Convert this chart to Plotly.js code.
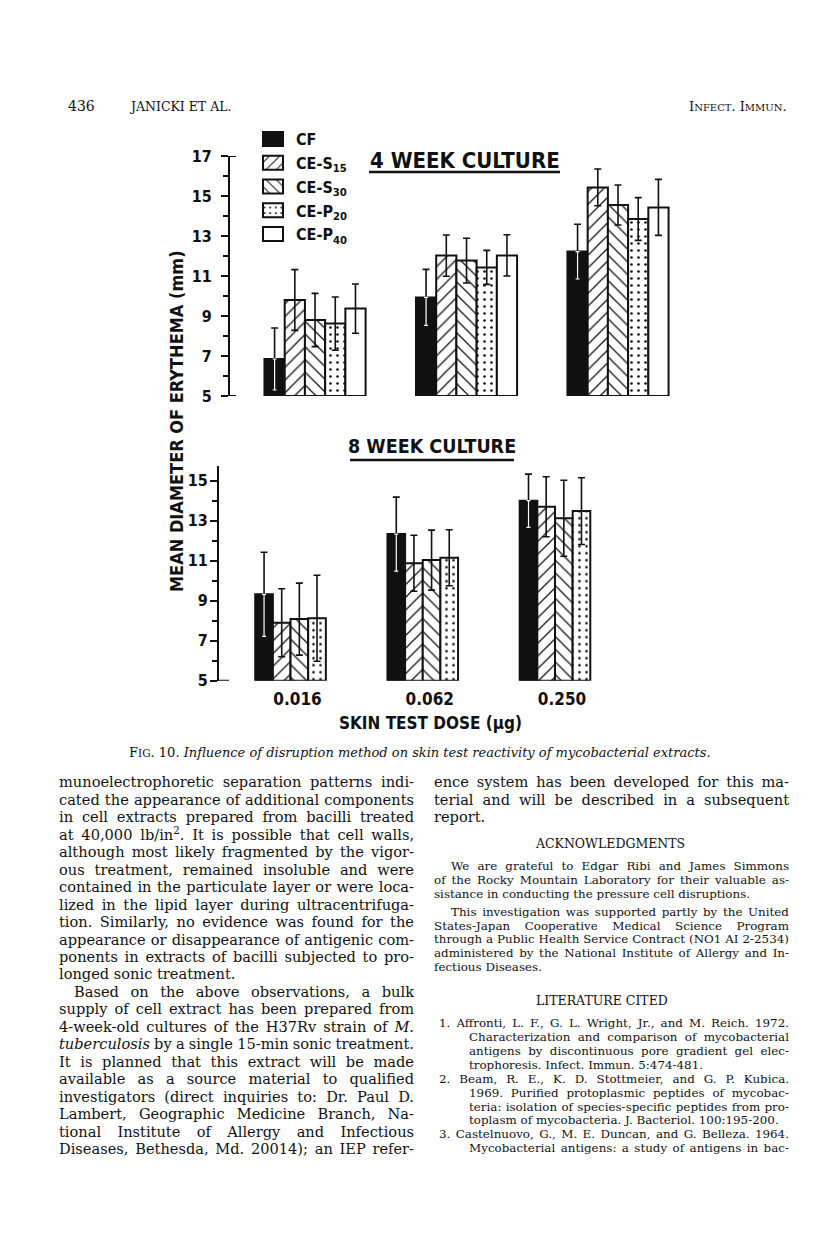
<!DOCTYPE html>
<html><head><meta charset="utf-8">
<script src="https://cdn.plot.ly/plotly-3.0.1.min.js"></script>
<style>html,body{margin:0;padding:0;background:#fff}</style>
</head><body><div id="chart" style="width:816px;height:1252px"></div>
<script>
// ---------------- data ----------------
const doses = ['0.016', '0.062', '0.250'];
const seriesNames = ['CF', 'CE-S15', 'CE-S30', 'CE-P20', 'CE-P40'];
const seriesLabels = ['CF', 'CE-S<sub>15</sub>', 'CE-S<sub>30</sub>', 'CE-P<sub>20</sub>', 'CE-P<sub>40</sub>'];
const yTicks4 = [5, 7, 9, 11, 13, 15, 17];
const yTicks8 = [5, 7, 9, 11, 13, 15];

// 4 week culture: mean diameter of erythema (mm) and error (mm)
const w4CF = [6.85, 9.93, 12.22];   const w4CFErr = [1.55, 1.40, 1.37];
const w4S15 = [9.80, 12.02, 15.43]; const w4S15Err = [1.52, 1.03, 0.92];
const w4S30 = [8.80, 11.77, 14.55]; const w4S30Err = [1.33, 1.12, 1.00];
const w4P20 = [8.62, 11.43, 13.85]; const w4P20Err = [1.33, 0.85, 1.07];
const w4P40 = [9.37, 12.03, 14.43]; const w4P40Err = [1.23, 1.03, 1.40];

// 8 week culture
const w8CF = [9.32, 12.33, 14.00];  const w8CFErr = [2.10, 1.85, 1.33];
const w8S15 = [7.90, 10.87, 13.70]; const w8S15Err = [1.70, 1.40, 1.50];
const w8S30 = [8.08, 11.03, 13.12]; const w8S30Err = [1.80, 1.50, 1.90];
const w8P20 = [8.12, 11.15, 13.48]; const w8P20Err = [2.15, 1.40, 1.67];

const AXIS_FLOOR = 5;

// page text
const headerLeftNum = '436';
const headerLeft = 'JANICKI ET AL.';
const headerRight = 'I<span style="font-size:10px">NFECT</span>. I<span style="font-size:10px">MMUN</span>.';
const captionText = 'F<span style="font-size:10.5px">IG</span>. 10. <i>Influence of disruption method on skin test reactivity of mycobacterial extracts.</i>';
const leftColumn = [
 ['munoelectrophoretic separation patterns indi-', 0, 1],
 ['cated the appearance of additional components', 0, 1],
 ['in cell extracts prepared from bacilli treated', 0, 1],
 ['at 40,000 lb/in<sup>2</sup>. It is possible that cell walls,', 0, 1],
 ['although most likely fragmented by the vigor-', 0, 1],
 ['ous treatment, remained insoluble and were', 0, 1],
 ['contained in the particulate layer or were loca-', 0, 1],
 ['lized in the lipid layer during ultracentrifuga-', 0, 1],
 ['tion. Similarly, no evidence was found for the', 0, 1],
 ['appearance or disappearance of antigenic com-', 0, 1],
 ['ponents in extracts of bacilli subjected to pro-', 0, 1],
 ['longed sonic treatment.', 0, 0],
 ['Based on the above observations, a bulk', 15, 1],
 ['supply of cell extract has been prepared from', 0, 1],
 ['4-week-old cultures of the H37Rv strain of <i>M.</i>', 0, 1],
 ['<i>tuberculosis</i> by a single 15-min sonic treatment.', 0, 1],
 ['It is planned that this extract will be made', 0, 1],
 ['available as a source material to qualified', 0, 1],
 ['investigators (direct inquiries to: Dr. Paul D.', 0, 1],
 ['Lambert, Geographic Medicine Branch, Na-', 0, 1],
 ['tional Institute of Allergy and Infectious', 0, 1],
 ['Diseases, Bethesda, Md. 20014); an IEP refer-', 0, 1]
];
const rightColumn = [
 ['ence system has been developed for this ma-', 0, 1],
 ['terial and will be described in a subsequent', 0, 1],
 ['report.', 0, 0]
];
const ackHeading = 'ACKNOWLEDGMENTS';
const ackLines = [
 ['We are grateful to Edgar Ribi and James Simmons', 17, 1, 866],
 ['of the Rocky Mountain Laboratory for their valuable as-', 0, 1, 880],
 ['sistance in conducting the pressure cell disruptions.', 0, 0, 894],
 ['This investigation was supported partly by the United', 17, 1, 912],
 ['States-Japan Cooperative Medical Science Program', 0, 1, 926],
 ['through a Public Health Service Contract (NO1 AI 2-2534)', 0, 1, 939],
 ['administered by the National Institute of Allergy and In-', 0, 1, 953],
 ['fectious Diseases.', 0, 0, 967]
];
const litHeading = 'LITERATURE CITED';
const litLines = [
 ['1. Affronti, L. F., G. L. Wright, Jr., and M. Reich. 1972.', 5, 1, 1023],
 ['Characterization and comparison of mycobacterial', 35, 1, 1037],
 ['antigens by discontinuous pore gradient gel elec-', 35, 1, 1051],
 ['trophoresis. Infect. Immun. 5:474-481.', 35, 0, 1065],
 ['2. Beam, R. E., K. D. Stottmeier, and G. P. Kubica.', 5, 1, 1079],
 ['1969. Purified protoplasmic peptides of mycobac-', 35, 1, 1093],
 ['teria: isolation of species-specific peptides from pro-', 35, 1, 1107],
 ['toplasm of mycobacteria. J. Bacteriol. 100:195-200.', 35, 0, 1120],
 ['3. Castelnuovo, G., M. E. Duncan, and G. Belleza. 1964.', 5, 1, 1134],
 ['Mycobacterial antigens: a study of antigens in bac-', 35, 1, 1148]
];

// ---------------- layout helpers ----------------
const W = 816, H = 1252;
const px = v => v / W;
const py = v => 1 - v / H;
const SANS = '"Liberation Sans Narrow", "DejaVu Sans Condensed", "Liberation Sans", Arial, sans-serif';
const SERIF = '"DejaVu Serif", "Liberation Serif", serif';
const INK = '#111';
const BODY = 14.6;
const SMALL = 11.9;

const patterns = ['', '/', '\\', '.', ''];
const fills = [INK, 'white', 'white', 'white', 'white'];
const BW = 0.1335; // bar width in category units

function barTrace(vals, errs, idx, nSeries, xa, ya, showLegend) {
  const m = {color: fills[idx], line: {color: INK, width: 2}};
  if (patterns[idx]) {
    m.pattern = {shape: patterns[idx], fgcolor: INK, bgcolor: 'white',
      size: patterns[idx] === '.' ? 7 : 9, solidity: patterns[idx] === '.' ? 0.11 : 0.14, fillmode: 'replace'};
  }
  return {
    type: 'bar', x: doses, y: vals.map(v => v - AXIS_FLOOR), base: AXIS_FLOOR,
    width: BW, offset: (idx - nSeries / 2) * BW,
    xaxis: xa, yaxis: ya, name: seriesLabels[idx], legendgroup: seriesNames[idx],
    showlegend: showLegend, marker: m,
    error_y: {type: 'data', array: errs, visible: true, color: INK, thickness: 1.6, width: 3.5},
    hoverinfo: 'skip'
  };
}
function innerErr(vals, errs, nSeries, xa, ya) {
  return {
    type: 'bar', x: doses, y: vals.map(v => v - AXIS_FLOOR), base: AXIS_FLOOR,
    width: BW, offset: (0 - nSeries / 2) * BW, xaxis: xa, yaxis: ya,
    showlegend: false, marker: {color: 'rgba(0,0,0,0)', line: {width: 0}},
    error_y: {type: 'data', symmetric: false, array: errs.map(() => 0), arrayminus: errs,
      visible: true, color: 'white', thickness: 1.2, width: 2},
    hoverinfo: 'skip'
  };
}

const w4 = [[w4CF, w4CFErr], [w4S15, w4S15Err], [w4S30, w4S30Err], [w4P20, w4P20Err], [w4P40, w4P40Err]];
const w8 = [[w8CF, w8CFErr], [w8S15, w8S15Err], [w8S30, w8S30Err], [w8P20, w8P20Err]];

const traces = [];
w4.forEach((s, i) => traces.push(barTrace(s[0], s[1], i, 5, 'x', 'y', true)));
traces.push(innerErr(w4CF, w4CFErr, 5, 'x', 'y'));
w8.forEach((s, i) => traces.push(barTrace(s[0], s[1], i, 4, 'x2', 'y2', false)));
traces.push(innerErr(w8CF, w8CFErr, 4, 'x2', 'y2'));

const tickFont = {family: SANS, size: 16, color: INK, weight: 'bold'};
const yCommon = {
  showgrid: false, zeroline: false, showline: true, linecolor: INK, linewidth: 2,
  ticks: 'outside', ticklen: 7, tickwidth: 2, tickcolor: INK, tickfont: tickFont,
  tickmode: 'array', minor: {tickmode: 'linear', tick0: 5, dtick: 1, ticks: 'outside', ticklen: 5, tickwidth: 2, tickcolor: INK}
};

const annotations = [];
const justify = [];
function addText(text, x, y, opts) {
  const o = Object.assign({}, opts || {});
  const jw = o._jw || 0; delete o._jw;
  annotations.push(Object.assign({text: text, xref: 'paper', yref: 'paper', x: px(x), y: py(y),
    showarrow: false, xanchor: 'left', yanchor: 'middle', align: 'left', borderpad: 0,
    font: {family: SERIF, size: BODY, color: INK}}, o));
  justify.push(jw);
}

// chart texts
addText('<b>4 WEEK CULTURE</b>', 464.5, 161, {xanchor: 'center', font: {family: SANS, size: 22, color: INK}});
addText('<b>8 WEEK CULTURE</b>', 432, 446, {xanchor: 'center', font: {family: SANS, size: 19.5, color: INK}});
addText('<b>MEAN DIAMETER OF ERYTHEMA (mm)</b>', 176, 421, {xanchor: 'center', textangle: -90, font: {family: SANS, size: 18, color: INK}});
addText('<b>SKIN TEST DOSE (µg)</b>', 430, 723, {xanchor: 'center', font: {family: SANS, size: 17, color: INK}});
// page texts
addText(headerLeftNum, 67, 106, {font: {family: SERIF, size: 14, color: INK}});
addText(headerLeft, 128, 106, {font: {family: SERIF, size: 12.5, color: INK}});
addText(headerRight, 788, 106, {xanchor: 'right', font: {family: SERIF, size: 13, color: INK}});
addText(captionText, 420, 752, {xanchor: 'center', font: {family: SERIF, size: 13, color: INK}});

const LC0 = 58, LC1 = 413, RC0 = 433, RC1 = 788, L0 = 782, LS = 17.45;
leftColumn.forEach((l, i) => addText(l[0], LC0 + l[1], L0 + LS * i, l[2] ? {_jw: LC1 - LC0 - l[1]} : {}));
rightColumn.forEach((l, i) => addText(l[0], RC0 + l[1], L0 + LS * i, l[2] ? {_jw: RC1 - RC0 - l[1]} : {}));
addText(ackHeading, 610, 843, {xanchor: 'center', font: {family: SERIF, size: 12.5, color: INK}});
ackLines.forEach(l => addText(l[0], RC0 + l[1], l[3], Object.assign({font: {family: SERIF, size: SMALL, color: INK}}, l[2] ? {_jw: RC1 - RC0 - l[1]} : {})));
addText(litHeading, 602, 1000, {xanchor: 'center', font: {family: SERIF, size: 12.5, color: INK}});
litLines.forEach(l => addText(l[0], RC0 + l[1], l[3], Object.assign({font: {family: SERIF, size: SMALL, color: INK}}, l[2] ? {_jw: RC1 - RC0 - l[1]} : {})));

const shapes = [
  {type: 'line', xref: 'paper', yref: 'paper', x0: px(369), x1: px(560), y0: py(172), y1: py(172), line: {color: INK, width: 2.6}},
  {type: 'line', xref: 'paper', yref: 'paper', x0: px(350), x1: px(514), y0: py(460), y1: py(460), line: {color: INK, width: 2.6}},
  {type: 'line', xref: 'paper', yref: 'y', x0: px(228), x1: px(236), y0: 17, y1: 17, line: {color: INK, width: 2}},
  {type: 'line', xref: 'paper', yref: 'y', x0: px(228), x1: px(236), y0: 5, y1: 5, line: {color: INK, width: 2}},
  {type: 'line', xref: 'paper', yref: 'y2', x0: px(218), x1: px(229), y0: 5, y1: 5, line: {color: INK, width: 2}}
];

const layout = {
  width: W, height: H, margin: {l: 0, r: 0, t: 0, b: 0},
  paper_bgcolor: 'white', plot_bgcolor: 'rgba(0,0,0,0)',
  barmode: 'overlay', showlegend: true,
  font: {family: SANS, color: INK},
  legend: {x: px(250), y: py(122), xanchor: 'left', yanchor: 'top', bgcolor: 'rgba(0,0,0,0)',
    font: {family: SANS, size: 16, color: INK, weight: 'bold'}, tracegroupgap: 0, itemwidth: 36},
  xaxis: {domain: [px(229), px(693.75)], anchor: 'y', type: 'category', categoryarray: doses,
    range: [-0.568, 2.5], showticklabels: false, ticks: '', showline: false, showgrid: false, zeroline: false},
  yaxis: Object.assign({}, yCommon, {domain: [py(396), py(156)], anchor: 'free', position: px(229), range: [5, 17], tickvals: yTicks4, ticktext: yTicks4.map(String), ticklabelstandoff: 6}),
  xaxis2: {domain: [px(219), px(621.1)], anchor: 'y2', type: 'category', categoryarray: doses,
    range: [-0.541, 2.5], ticks: '', showline: false, showgrid: false, zeroline: false,
    tickfont: {family: SANS, size: 17, color: INK, weight: 'bold'}, ticklabelshift: 7, ticklabelstandoff: 6},
  yaxis2: Object.assign({}, yCommon, {domain: [py(680.7), py(465.7)], anchor: 'x2', range: [5, 15.75], tickvals: yTicks8, ticktext: yTicks8.map(String), ticklabelstandoff: -1}),
  annotations: annotations, shapes: shapes
};

Plotly.newPlot('chart', traces, layout, {staticPlot: true, displayModeBar: false}).then(gd => {
  document.querySelectorAll('.legend .legendpoints path').forEach(p => p.setAttribute('d', 'M10,7H-10V-7H10Z'));
  document.querySelectorAll('g.annotation').forEach(g => {
    const i = +g.getAttribute('data-index');
    const w = justify[i];
    if (!w) return;
    const t = g.querySelector('text.annotation-text');
    if (!t) return;
    const nat = t.getComputedTextLength();
    const spaces = (t.textContent.match(/ /g) || []).length;
    if (spaces > 0) t.style.wordSpacing = ((w - nat) / spaces).toFixed(2) + 'px';
  });
});
</script></body></html>
